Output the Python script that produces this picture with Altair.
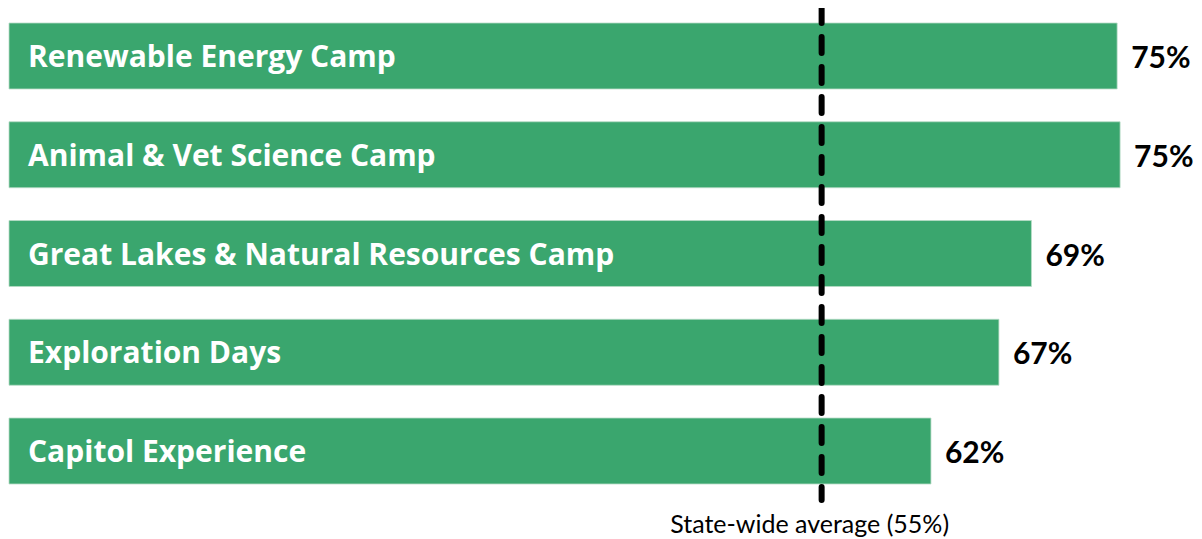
import altair as alt
import pandas as pd

camps = [
    "Renewable Energy Camp",
    "Animal & Vet Science Camp",
    "Great Lakes & Natural Resources Camp",
    "Exploration Days",
    "Capitol Experience",
]
values = [75.0, 75.2, 69.2, 67.0, 62.4]
value_labels = ["75%", "75%", "69%", "67%", "62%"]
average = 55
average_label = "State-wide average (55%)"

df = pd.DataFrame({"camp": camps, "value": values, "label": value_labels})
avg_df = pd.DataFrame({"avg": [average], "label": [average_label]})

W = 1182
H = 491
GREEN = "#3AA66E"

x_scale = alt.Scale(domain=[0, 80], nice=False, zero=True)
y_scale = alt.Scale(domain=camps, paddingInner=0.332, paddingOuter=0.152)

base = alt.Chart(df).encode(
    y=alt.Y("camp:N", sort=camps, scale=y_scale, axis=None),
)

bars = base.mark_bar(color=GREEN, stroke="#b8dcc6", strokeWidth=0.8).encode(
    x=alt.X("value:Q", scale=x_scale, axis=None),
)

names = base.mark_text(
    align="left", baseline="middle", color="white", font="Open Sans",
    fontWeight="bold", fontSize=30, dy=2,
).encode(
    x=alt.value(19),
    text="camp:N",
)

vals = base.mark_text(
    align="left", baseline="middle", color="black", font="Lato",
    fontWeight="bold", fontSize=30, dx=14, dy=3,
).encode(
    x=alt.X("value:Q", scale=x_scale),
    text="label:N",
)

rule = alt.Chart(avg_df).mark_rule(
    color="black", strokeWidth=6, strokeDash=[16, 14], strokeCap="round",
).encode(
    x=alt.X("avg:Q", scale=x_scale),
    y=alt.value(-1),
    y2=alt.value(H + 1),
)

avg_text = alt.Chart(avg_df).mark_text(
    align="center", baseline="middle", color="black", font="Lato",
    fontSize=25, dx=-12,
).encode(
    x=alt.X("avg:Q", scale=x_scale),
    y=alt.value(H + 26),
    text="label:N",
)

chart = alt.layer(bars, rule, names, vals, avg_text).properties(
    width=W, height=H,
    autosize=alt.AutoSizeParams(type="none"),
    padding={"left": 1, "top": 0, "right": 3, "bottom": 40},
).configure_view(stroke=None)

chart.save("out.html", embed_options={"renderer": "svg", "actions": False})
